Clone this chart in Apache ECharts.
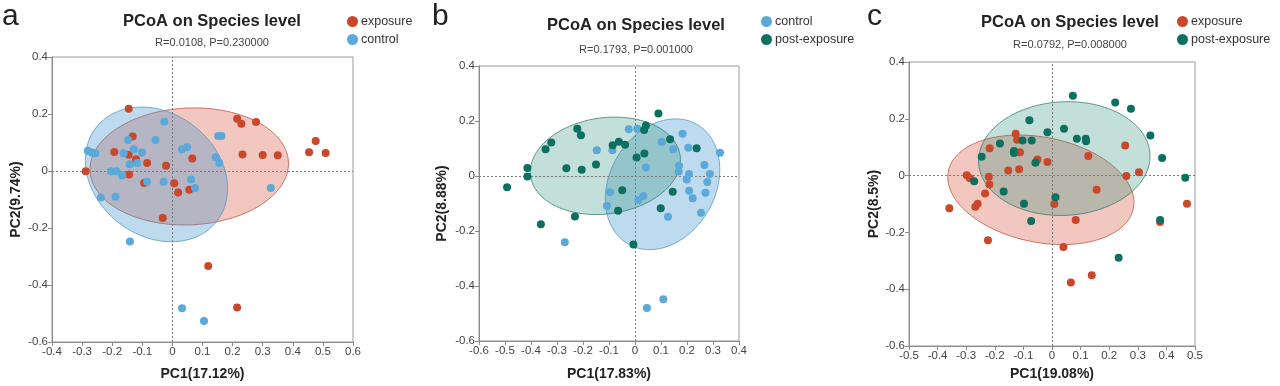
<!DOCTYPE html>
<html>
<head>
<meta charset="utf-8">
<script src="https://cdn.jsdelivr.net/npm/echarts@6/dist/echarts.min.js"></script>
<style>
html,body{margin:0;padding:0;background:#fff;}
#chart{width:1280px;height:386px;}
</style>
</head>
<body>
<div id="chart"></div>
<script>
// ---------- data ----------
const panelLetters = ['a', 'b', 'c'];
const titleText = 'PCoA on Species level';
const statsText = ['R=0.0108, P=0.230000', 'R=0.1793, P=0.001000', 'R=0.0792, P=0.008000'];
const xAxisNames = ['PC1(17.12%)', 'PC1(17.83%)', 'PC1(19.08%)'];
const yAxisNames = ['PC2(9.74%)', 'PC2(8.88%)', 'PC2(8.5%)'];
const xRanges = [[-0.4, 0.6], [-0.6, 0.4], [-0.5, 0.5]];
const yRange = [-0.6, 0.4];
const panelGroups = [['exposure', 'control'], ['control', 'post-exposure'], ['exposure', 'post-exposure']];

const aExposure = [[-0.145,0.218],[0.215,0.183],[0.229,0.166],[0.278,0.172],[0.476,0.105],[0.454,0.066],[0.509,0.063],[0.233,0.058],[0.300,0.056],[0.350,0.055],[-0.132,0.121],[-0.193,0.067],[-0.145,0.057],[-0.121,0.041],[-0.084,0.028],[-0.021,0.018],[0.066,0.044],[-0.288,-0.001],[-0.144,-0.012],[-0.094,-0.042],[0.006,-0.043],[0.019,-0.075],[0.056,-0.066],[-0.032,-0.165],[0.119,-0.333],[0.215,-0.479]];
const aControl = [[-0.027,0.173],[-0.056,0.109],[-0.147,0.109],[0.152,0.123],[0.163,0.123],[-0.281,0.071],[-0.267,0.065],[-0.256,0.062],[-0.162,0.062],[-0.128,0.076],[-0.101,0.065],[-0.142,0.024],[-0.117,0.028],[0.032,0.076],[0.049,0.083],[0.144,0.048],[0.156,0.028],[-0.204,-0.001],[-0.186,-0.001],[-0.167,-0.016],[-0.084,-0.038],[-0.029,-0.038],[0.062,-0.030],[0.075,-0.060],[0.327,-0.060],[-0.238,-0.093],[-0.189,-0.090],[-0.141,-0.247],[0.032,-0.482],[0.105,-0.526]];
const bControl = [[-0.024,0.170],[0.009,0.172],[0.183,0.154],[0.103,0.124],[-0.147,0.094],[-0.087,0.094],[0.147,0.097],[0.205,0.103],[0.327,0.085],[0.042,0.031],[0.169,0.037],[0.168,0.016],[0.208,0.007],[0.267,0.040],[0.288,0.007],[0.199,-0.013],[0.278,-0.022],[0.208,-0.054],[0.271,-0.061],[0.222,-0.081],[-0.096,-0.059],[0.032,-0.073],[0.013,-0.087],[-0.108,-0.109],[0.254,-0.134],[0.127,-0.148],[-0.270,-0.241],[0.109,-0.448],[0.046,-0.480]];
const bPost = [[0.090,0.227],[-0.222,0.172],[-0.208,0.148],[0.042,0.184],[0.035,0.167],[-0.322,0.122],[-0.344,0.097],[-0.086,0.112],[-0.062,0.125],[-0.038,0.114],[0.135,0.134],[0.237,0.101],[0.036,0.082],[0.006,0.067],[-0.150,0.042],[-0.264,0.028],[-0.205,0.023],[-0.414,0.029],[-0.414,-0.002],[-0.492,-0.041],[-0.049,-0.052],[0.145,-0.057],[0.099,-0.117],[-0.065,-0.126],[-0.231,-0.147],[-0.362,-0.175],[-0.006,-0.249]];
const cExposure = [[-0.127,0.147],[-0.122,0.126],[-0.218,0.096],[-0.112,0.082],[0.256,0.106],[0.127,0.069],[-0.051,0.057],[-0.016,0.048],[-0.153,0.018],[-0.115,0.022],[0.304,0.012],[0.260,-0.001],[-0.298,0.001],[-0.287,-0.009],[-0.221,-0.004],[-0.219,-0.031],[0.156,-0.050],[-0.234,-0.063],[-0.260,-0.099],[-0.268,-0.110],[-0.359,-0.115],[0.008,-0.100],[0.083,-0.156],[0.472,-0.099],[0.378,-0.163],[-0.224,-0.228],[0.040,-0.251],[0.139,-0.351],[0.066,-0.376]];
const cPost = [[0.073,0.281],[0.221,0.257],[0.276,0.235],[-0.079,0.195],[0.042,0.165],[-0.016,0.153],[-0.103,0.124],[-0.071,0.124],[0.087,0.130],[0.118,0.130],[0.119,0.121],[0.344,0.141],[-0.182,0.113],[-0.133,0.087],[-0.133,0.080],[0.385,0.062],[-0.246,0.066],[-0.058,0.045],[-0.272,-0.020],[0.466,-0.008],[-0.169,-0.056],[0.012,-0.076],[-0.098,-0.099],[-0.073,-0.160],[0.378,-0.156],[0.233,-0.289]];

// confidence ellipses: [centerX, centerY, semiAxisA, semiAxisB, angle(rad)]
const aExposureEllipse = [0.056, 0.016, 0.33, 0.205, 0.05];
const aControlEllipse = [-0.053, -0.012, 0.26, 0.21, -0.785];
const bControlEllipse = [0.106, -0.03, 0.255, 0.2, 0.95];
const bPostEllipse = [-0.114, 0.037, 0.29, 0.175, 0.12];
const cExposureEllipse = [-0.039, -0.05, 0.33, 0.185, -0.2];
const cPostEllipse = [0.043, 0.06, 0.30, 0.2, 0.05];

// ---------- styling ----------
const FONT = '"Liberation Sans", Arial, sans-serif';
const groupColor = { 'exposure': '#c9472b', 'control': '#5aa9d9', 'post-exposure': '#0c7060' };
const ellipseFill = { 'exposure': 'rgba(215,85,60,0.33)', 'control': 'rgba(70,150,205,0.35)', 'post-exposure': 'rgba(40,140,120,0.28)' };
const ellipseStroke = { 'exposure': 'rgba(190,80,60,0.75)', 'control': 'rgba(80,150,200,0.75)', 'post-exposure': 'rgba(40,115,100,0.7)' };

const grids = [
  { left: 52, top: 57, width: 301, height: 288 },
  { left: 479, top: 66, width: 260, height: 277 },
  { left: 909, top: 62, width: 286, height: 284 }
];
const titlePos = [[212, 21, 43], [636, 25, 50], [1070, 22, 45]];
const legendPos = [[347, 15], [761, 15], [1177, 15]];
const letterPos = [[2, 32], [432, 32], [867, 32]];
const xNameGap = [25, 26, 19];
const yNameGap = [29, 30, 26];

const panelPoints = [[aExposure, aControl], [bControl, bPost], [cExposure, cPost]];
const panelEllipses = [[aExposureEllipse, aControlEllipse], [bControlEllipse, bPostEllipse], [cExposureEllipse, cPostEllipse]];

function ellipseRender(group) {
  return function (params, api) {
    const cx = api.value(0), cy = api.value(1), a = api.value(2), b = api.value(3), th = api.value(4);
    const pts = [];
    const n = 120;
    for (let i = 0; i < n; i++) {
      const t = (i / n) * Math.PI * 2;
      const x = cx + a * Math.cos(t) * Math.cos(th) - b * Math.sin(t) * Math.sin(th);
      const y = cy + a * Math.cos(t) * Math.sin(th) + b * Math.sin(t) * Math.cos(th);
      pts.push(api.coord([x, y]));
    }
    return {
      type: 'polygon',
      shape: { points: pts },
      style: { fill: ellipseFill[group], stroke: ellipseStroke[group], lineWidth: 1 }
    };
  };
}

const option = {
  animation: false,
  backgroundColor: '#fff',
  textStyle: { fontFamily: FONT },
  grid: grids.map(g => Object.assign({ show: true, borderColor: '#9a9a9a', borderWidth: 1, backgroundColor: 'transparent' }, g)),
  xAxis: [], yAxis: [], series: [], legend: [], graphic: []
};

for (let p = 0; p < 3; p++) {
  option.xAxis.push({
    type: 'value', gridIndex: p, min: xRanges[p][0], max: xRanges[p][1], interval: 0.1,
    name: xAxisNames[p], nameLocation: 'middle', nameGap: xNameGap[p],
    nameTextStyle: { fontSize: 14, fontWeight: 'bold', color: '#222', fontFamily: FONT },
    axisLine: { show: true, onZero: false, lineStyle: { color: '#8a8a8a', width: 1 } },
    axisTick: { show: true, length: 4, lineStyle: { color: '#8a8a8a' } },
    axisLabel: { fontSize: 11.5, color: '#444', margin: 4, fontFamily: FONT },
    splitLine: { show: false }
  });
  option.yAxis.push({
    type: 'value', gridIndex: p, min: yRange[0], max: yRange[1], interval: 0.2,
    name: yAxisNames[p], nameLocation: 'middle', nameGap: yNameGap[p], nameRotate: 90,
    nameTextStyle: { fontSize: 14, fontWeight: 'bold', color: '#222', fontFamily: FONT },
    axisLine: { show: true, onZero: false, lineStyle: { color: '#8a8a8a', width: 1 } },
    axisTick: { show: true, length: 4, lineStyle: { color: '#8a8a8a' } },
    axisLabel: { fontSize: 11.5, color: '#444', margin: 4, fontFamily: FONT },
    splitLine: { show: false }
  });

  // ellipses
  for (let k = 0; k < 2; k++) {
    const grp = panelGroups[p][k];
    option.series.push({
      type: 'custom', name: 'ellipse-' + panelLetters[p] + '-' + grp,
      xAxisIndex: p, yAxisIndex: p, silent: true, z: 1 + k,
      renderItem: ellipseRender(grp),
      encode: { x: 0, y: 1 },
      data: [panelEllipses[p][k]]
    });
  }
  // points
  for (let k = 0; k < 2; k++) {
    const grp = panelGroups[p][k];
    const s = {
      type: 'scatter', name: grp, xAxisIndex: p, yAxisIndex: p, z: 5,
      symbol: 'circle', symbolSize: 8,
      itemStyle: { color: groupColor[grp], opacity: 1 },
      data: panelPoints[p][k]
    };
    if (k === 0) {
      s.markLine = {
        silent: true, symbol: ['none', 'none'], label: { show: false },
        lineStyle: { type: [2, 2], color: '#7a7a7a', width: 1 },
        data: [{ xAxis: 0 }, { yAxis: 0 }]
      };
    }
    option.series.push(s);
  }

  option.legend.push({
    left: legendPos[p][0], top: legendPos[p][1], orient: 'vertical',
    icon: 'circle', itemWidth: 11, itemHeight: 11, itemGap: 5, padding: 0,
    textStyle: { fontSize: 12.5, color: '#333', fontFamily: FONT, padding: [0, 0, 0, -2] },
    data: panelGroups[p]
  });

  option.graphic.push({
    type: 'text', x: letterPos[p][0], y: letterPos[p][1], silent: true,
    style: { text: panelLetters[p], font: '30px ' + FONT, fill: '#222', align: 'left', verticalAlign: 'bottom' }
  });
  option.graphic.push({
    type: 'text', x: titlePos[p][0], y: titlePos[p][1], silent: true,
    style: { text: titleText, font: 'bold 16.5px ' + FONT, fill: '#222', align: 'center', verticalAlign: 'middle' }
  });
  option.graphic.push({
    type: 'text', x: titlePos[p][0], y: titlePos[p][2], silent: true,
    style: { text: statsText[p], font: '11px ' + FONT, fill: '#444', align: 'center', verticalAlign: 'middle' }
  });
}

const chart = echarts.init(document.getElementById('chart'), null, { renderer: 'canvas' });
chart.setOption(option);
</script>
</body>
</html>
